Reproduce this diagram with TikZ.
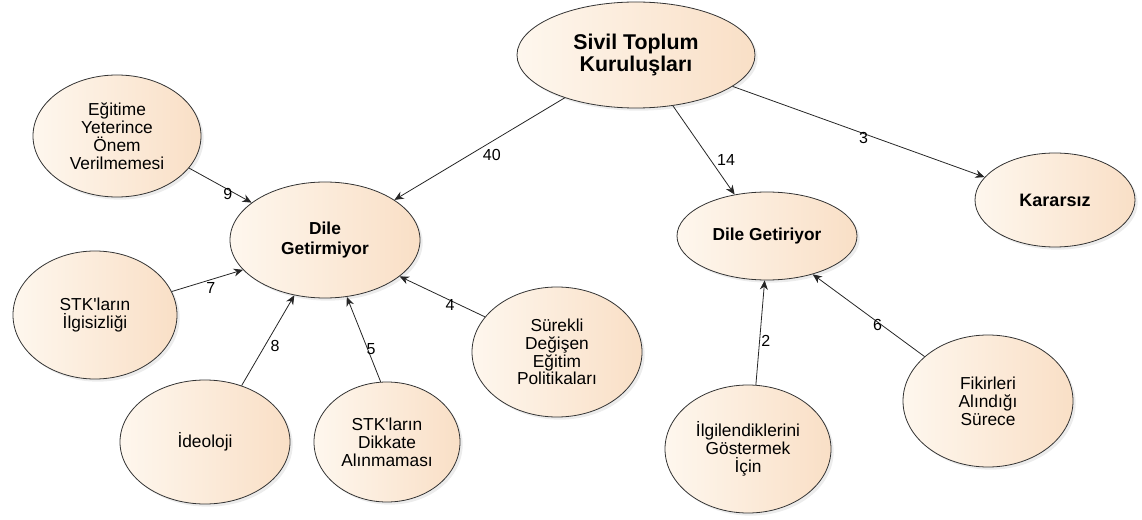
\documentclass[tikz,border=0pt]{standalone}
\usepackage{fontspec}
\setmainfont{Liberation Sans}
\usepackage{xcolor}
\usepackage{tikz}
\usetikzlibrary{shapes.geometric,shadows}
\usetikzlibrary{arrows.meta}

\definecolor{bublight}{HTML}{FEF7EE}
\definecolor{bubdark}{HTML}{F9DFC6}

\begin{document}
\begin{tikzpicture}[x=0.75pt,y=-0.75pt,
  bubble/.style={ellipse,draw=black!80,line width=0.6pt,left color=bublight,right color=bubdark,
    align=center,inner sep=0pt,font=\fontsize{13}{13.4}\selectfont,
    drop shadow={opacity=0.15,shadow xshift=2pt,shadow yshift=-2pt}},
  headbubble/.style={bubble,font=\fontsize{13}{14.5}\selectfont\bfseries},
  arr/.style={-{Stealth[length=7pt,width=6pt]},draw=black!85,line width=0.6pt},
  num/.style={font=\fontsize{12}{12}\selectfont,inner sep=1pt}]
\useasboundingbox (0,0) rectangle (1142,520);

% ana dugum
\node[bubble,font=\fontsize{16}{17}\selectfont\bfseries,minimum width=178.5pt,minimum height=79.5pt] (stk) at (636,55) {Sivil Toplum\\Kuruluşları};

\node[headbubble,minimum width=142.5pt,minimum height=87pt] (dgm) at (325,240) {Dile\\Getirmiyor};
\node[headbubble,minimum width=135pt,minimum height=66pt] (dgi) at (767,236) {Dile Getiriyor};
\node[headbubble,font=\fontsize{13.5}{14}\selectfont\bfseries,minimum width=120pt,minimum height=70.5pt] (kar) at (1055,200) {Kararsız};

% nedenler
\node[bubble,minimum width=126pt,minimum height=91.5pt] (egit) at (117,136) {Eğitime\\Yeterince\\Önem\\Verilmemesi};
\node[bubble,minimum width=123pt,minimum height=96pt] (ilgisiz) at (95,315) {STK\textquotesingle ların\\İlgisizliği};
\node[bubble,minimum width=127.5pt,minimum height=93pt] (ideo) at (205,442) {İdeoloji};
\node[bubble,minimum width=109.5pt,minimum height=90pt] (dikkat) at (387,442) {STK\textquotesingle ların\\Dikkate\\Alınmaması};
\node[bubble,minimum width=127.5pt,minimum height=97.5pt] (surekli) at (557,352) {Sürekli\\Değişen\\Eğitim\\Politikaları};
\node[bubble,minimum width=124.5pt,minimum height=96pt] (ilgilen) at (748,449) {İlgilendiklerini\\Göstermek\\İçin};
\node[bubble,minimum width=127.5pt,minimum height=99pt] (fikir) at (988,401) {Fikirleri\\Alındığı\\Sürece};

% oklar
\draw[arr] (stk.-149.5) -- (dgm.30.4) node[num,pos=0.49,below right=0pt] {40};
\draw[arr] (stk.-54.2) -- (dgi.128.8) node[num,pos=0.69,above right=0pt] {14};
\draw[arr] (stk.-18.9) -- (kar.162.3) node[num,pos=0.52,below=-2pt] {3};

\draw[arr] (egit.-24.6) -- (dgm.153.1) node[num,pos=0.62,below=-2pt] {9};
\draw[arr] (ilgisiz.17.3) -- (dgm.-160) node[num,pos=0.55,below=1pt] {7};
\draw[arr] (ideo.57.5) -- (dgm.-119.6) node[num,pos=0.44,right=3pt] {8};
\draw[arr] (dikkat.96.8) -- (dgm.-69) node[num,pos=0.39,right=-2pt] {5};
\draw[arr] (surekli.154.7) -- (dgm.-26.6) node[num,pos=0.41,below=-2pt] {4};

\draw[arr] (ilgilen.83.8) -- (dgi.-93.9) node[num,pos=0.42,right=0pt] {2};
\draw[arr] (fikir.145.1) -- (dgi.-40) node[num,pos=0.42,below=-3pt] {6};
%\draw[arr] (fikir) -- (dgi);
\end{tikzpicture}
\end{document}
